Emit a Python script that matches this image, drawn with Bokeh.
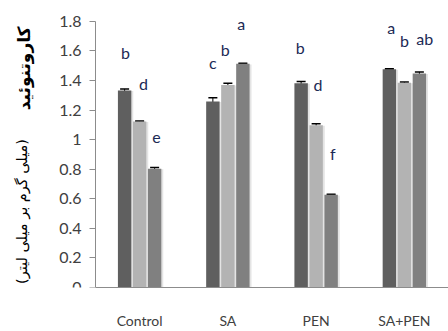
import math
from bokeh.plotting import figure
from bokeh.models import ColumnDataSource, Range1d, Whisker, FixedTicker, TeeHead
from bokeh.core.properties import value
from bokeh.embed import file_html
from bokeh.resources import INLINE

groups = ["Control", "SA", "PEN", "SA+PEN"]
s1 = [1.333, 1.258, 1.382, 1.477]
s2 = [1.123, 1.370, 1.098, 1.385]
s3 = [0.803, 1.513, 0.627, 1.448]
e1 = [0.010, 0.025, 0.012, 0.003]
e2 = [0.003, 0.012, 0.010, 0.005]
e3 = [0.008, 0.004, 0.004, 0.010]
letters1 = ["b", "c", "b", "a"]
letters2 = ["d", "b", "d", "b"]
letters3 = ["e", "a", "f", "ab"]
letter_y1 = [1.59, 1.52, 1.624, 1.76]
letter_y2 = [1.38, 1.61, 1.373, 1.67]
letter_y3 = [1.015, 1.786, 0.907, 1.685]
yticks = [0, 0.2, 0.4, 0.6, 0.8, 1.0, 1.2, 1.4, 1.6, 1.8]
ytick_labels = ["0", "0.2", "0.4", "0.6", "0.8", "1", "1.2", "1.4", "1.6", "1.8"]
ytitle_bold = "کاروتنوئید"
ytitle_unit = "(میلی گرم بر میلی لیتر)"

colors = ["#5f5f5f", "#b3b3b3", "#808080"]
offsets = [-0.17, 0.0, 0.17]
bar_w = 0.152
centers = [k + 0.5 for k in range(len(groups))]

p = figure(x_range=Range1d(-1.0765, 4.0), y_range=Range1d(0, 1.86),
           width=448, height=331, output_backend="svg", toolbar_location=None,
           min_border_left=0, min_border_right=0, min_border_top=12, min_border_bottom=44)
p.outline_line_color = None
p.xgrid.visible = False
p.ygrid.visible = False

series = [(s1, e1, letters1, letter_y1), (s2, e2, letters2, letter_y2), (s3, e3, letters3, letter_y3)]
lx_off = [[-0.16, -0.17, -0.18, -0.15], [0.045, -0.03, 0.02, 0.0], [0.19, 0.15, 0.19, 0.23]]
for i, (vals, errs, lets, ly) in enumerate(series):
    xs = [c + offsets[i] for c in centers]
    src = ColumnDataSource(dict(x=xs, xs=[x + 0.022 for x in xs], v=vals,
                                vs=[v - 0.004 for v in vals],
                                up=[a + b for a, b in zip(vals, errs)],
                                lo=[a - b for a, b in zip(vals, errs)]))
    p.vbar(x="xs", top="vs", width=bar_w, source=src, fill_color="#d8d8d8",
           line_color=None, fill_alpha=0.7)
    p.vbar(x="x", top="v", width=bar_w, source=src, fill_color=colors[i], line_color=None)
    w = Whisker(base="x", upper="up", lower="lo", source=src,
                line_color="black", line_width=1,
                upper_head=TeeHead(size=9, line_color="black", line_width=1.5),
                lower_head=TeeHead(size=9, line_color="black", line_width=1.5))
    p.add_layout(w)
    lsrc = ColumnDataSource(dict(x=[c + o for c, o in zip(centers, lx_off[i])], y=ly, t=lets))
    p.text(x="x", y="y", text="t", source=lsrc, text_align="center",
           text_baseline="middle", text_font=value("Lato"), text_font_size="16px",
           text_color="#1c2a55")

p.yaxis.fixed_location = 0
p.yaxis.ticker = FixedTicker(ticks=yticks)
p.yaxis.major_label_overrides = {t: l for t, l in zip(yticks, ytick_labels)}
p.yaxis.bounds = (0, 1.8)
p.yaxis.axis_line_color = "#8c8c8c"
p.yaxis.major_tick_line_color = "#8c8c8c"
p.yaxis.major_tick_out = 6
p.yaxis.major_tick_in = 0
p.yaxis.minor_tick_line_color = None
p.yaxis.major_label_standoff = 8
p.yaxis.major_label_text_font = "Lato"
p.yaxis.major_label_text_font_size = "16px"
p.yaxis.major_label_text_color = "#404040"

p.xaxis.ticker = FixedTicker(ticks=centers)
p.xaxis.major_label_overrides = {c: g for c, g in zip(centers, groups)}
p.xaxis.bounds = (0, 4)
p.xaxis.axis_line_color = "#8c8c8c"
p.xaxis.major_tick_line_color = None
p.xaxis.minor_tick_line_color = None
p.xaxis.major_tick_out = 0
p.xaxis.major_label_standoff = 24
p.xaxis.major_label_text_font = "Lato"
p.xaxis.major_label_text_font_size = "14px"
p.xaxis.major_label_text_color = "#404040"

title_src = ColumnDataSource(dict(x=[-0.815], y=[1.482], t=[ytitle_bold]))
p.text(x="x", y="y", text="t", source=title_src, angle=math.pi / 2, text_align="center",
       text_baseline="middle", text_font=value("DejaVu Sans"), text_font_style="bold",
       text_font_size="17px", text_color="black")
unit_src = ColumnDataSource(dict(x=[-0.83], y=[0.514], t=[ytitle_unit]))
p.text(x="x", y="y", text="t", source=unit_src, angle=math.pi / 2, text_align="center",
       text_baseline="middle", text_font=value("DejaVu Sans"),
       text_font_size="14.5px", text_color="black")

open("out.html", "w").write(file_html(p, INLINE))
